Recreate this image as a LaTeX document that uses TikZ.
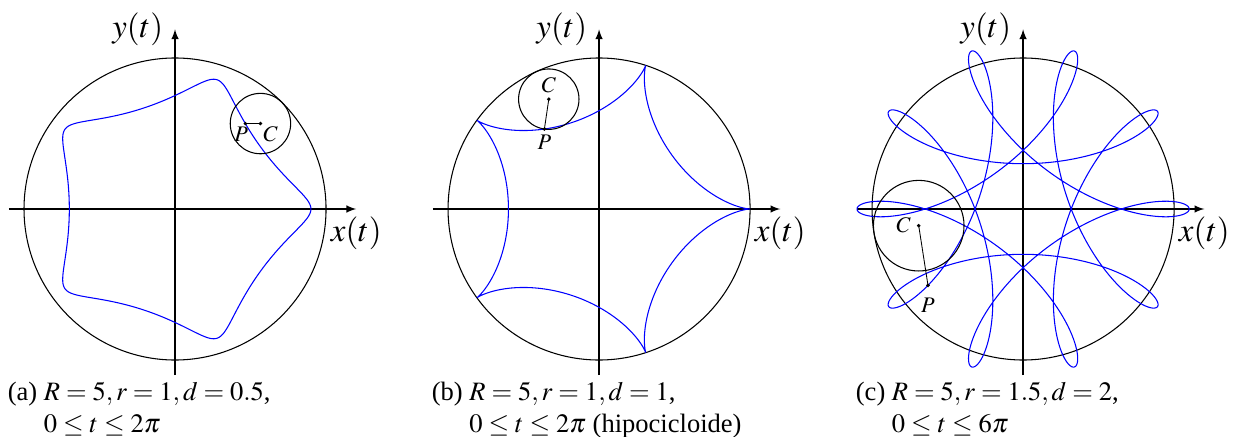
\documentclass[tikz,border=0pt]{standalone}
\usepackage{mathptmx}
\usepackage{fontspec}
\setmainfont{Liberation Serif}
\usetikzlibrary{positioning}

\begin{document}
\begin{tikzpicture}[x=0.5cm, y=0.5cm,
  eixo/.style  = {-latex, line width=0.6pt},
  circ/.style  = {line width=0.5pt},
  curva/.style = {blue, line width=0.5pt},
  ponto/.style = {circle, fill=black, inner sep=0pt, minimum size=1.8pt},
  rot/.style   = {font=\fontsize{15.5}{18}\selectfont},
  pc/.style    = {font=\fontsize{10.5}{12}\selectfont, inner sep=0.5pt},
  leg/.style   = {font=\fontsize{12.5}{15}\selectfont, anchor=north west, inner sep=0pt}
]
\useasboundingbox (-5.795,-7.517) rectangle (35.03,6.92);

% --- eixos e circunferencia fixa (R = 5) ---
\foreach \k/\s in {a/0,b/14.04,c/28.08} {
  \coordinate (O\k)  at (\s,0);
  \coordinate (xi\k) at (\s-5.5,0);  \coordinate (xf\k) at (\s+6,0);
  \coordinate (yi\k) at (\s,-5.5);   \coordinate (yf\k) at (\s,5.95);
  \draw[eixo] (xi\k) -- (xf\k) node[rot, below] (lx\k) {$x(t)$};
  \draw[eixo] (yi\k) -- (yf\k) node[rot, left=2pt] (ly\k) {$y(t)$};
  \draw[circ] (O\k) circle[radius=5];
}

% --- (a) R=5, r=1, d=0.5 ---
\draw[curva, domain=0:360, samples=240, smooth, variable=\t]
  plot ({4*cos(\t)+0.5*cos(4*\t)}, {4*sin(\t)-0.5*sin(4*\t)});
\node[ponto] (Ca) at ({4*cos(45)},{4*sin(45)}) {};
\node[ponto] (Pa) at ({4*cos(45)+0.5*cos(180)},{4*sin(45)-0.5*sin(180)}) {};
\draw[circ] (Ca.center) circle[radius=1];
\draw (Ca.center) -- (Pa.center);
\node[pc, below=0pt of Pa, xshift=-2pt] (lPa) {$P$};
\node[pc, below right=0pt of Ca] (lCa) {$C$};
\node[leg] (leg-a) at (-5.55,-5.59)
  {\begin{tabular}{@{}l@{\ }l@{}}(a) & $R=5,r=1,d=0.5$,\\ & $0\le t\le 2\pi$\end{tabular}};

% --- (b) R=5, r=1, d=1 (hipocicloide) ---
\begin{scope}[shift={(Ob)}]
\draw[curva, domain=0:360, samples=400, variable=\t]
  plot ({4*cos(\t)+cos(4*\t)}, {4*sin(\t)-sin(4*\t)});
\node[ponto] (Cb) at ({4*cos(2 r)},{4*sin(2 r)}) {};
\node[ponto] (Pb) at ({4*cos(2 r)+cos(8 r)},{4*sin(2 r)-sin(8 r)}) {};
\draw[circ] (Cb.center) circle[radius=1];
\draw (Cb.center) -- (Pb.center);
\node[pc, below=1pt of Pb] (lPb) {$P$};
\node[pc, above=1pt of Cb] (lCb) {$C$};
\node[leg] (leg-b) at (-5.55,-5.59)
  {\begin{tabular}{@{}l@{\ }l@{}}(b) & $R=5,r=1,d=1$,\\ & $0\le t\le 2\pi$ (hipocicloide)\end{tabular}};
\end{scope}

% --- (c) R=5, r=1.5, d=2 ---
\begin{scope}[shift={(Oc)}]
\draw[curva, domain=0:1080, samples=700, smooth, variable=\t]
  plot ({3.5*cos(\t)+2*cos(7*\t/3)}, {3.5*sin(\t)-2*sin(7*\t/3)});
\node[ponto] (Cc) at ({3.5*cos(3.3 r)},{3.5*sin(3.3 r)}) {};
\node[ponto] (Pc) at ({3.5*cos(3.3 r)+2*cos(7.7 r)},{3.5*sin(3.3 r)-2*sin(7.7 r)}) {};
\draw[circ] (Cc.center) circle[radius=1.5];
\draw (Cc.center) -- (Pc.center);
\node[pc, below=4pt of Pc] (lPc) {$P$};
\node[pc, left=2pt of Cc] (lCc) {$C$};
\node[leg] (leg-c) at (-5.55,-5.59)
  {\begin{tabular}{@{}l@{\ }l@{}}(c) & $R=5,r=1.5,d=2$,\\ & $0\le t\le 6\pi$\end{tabular}};
\end{scope}
\end{tikzpicture}
\end{document}
